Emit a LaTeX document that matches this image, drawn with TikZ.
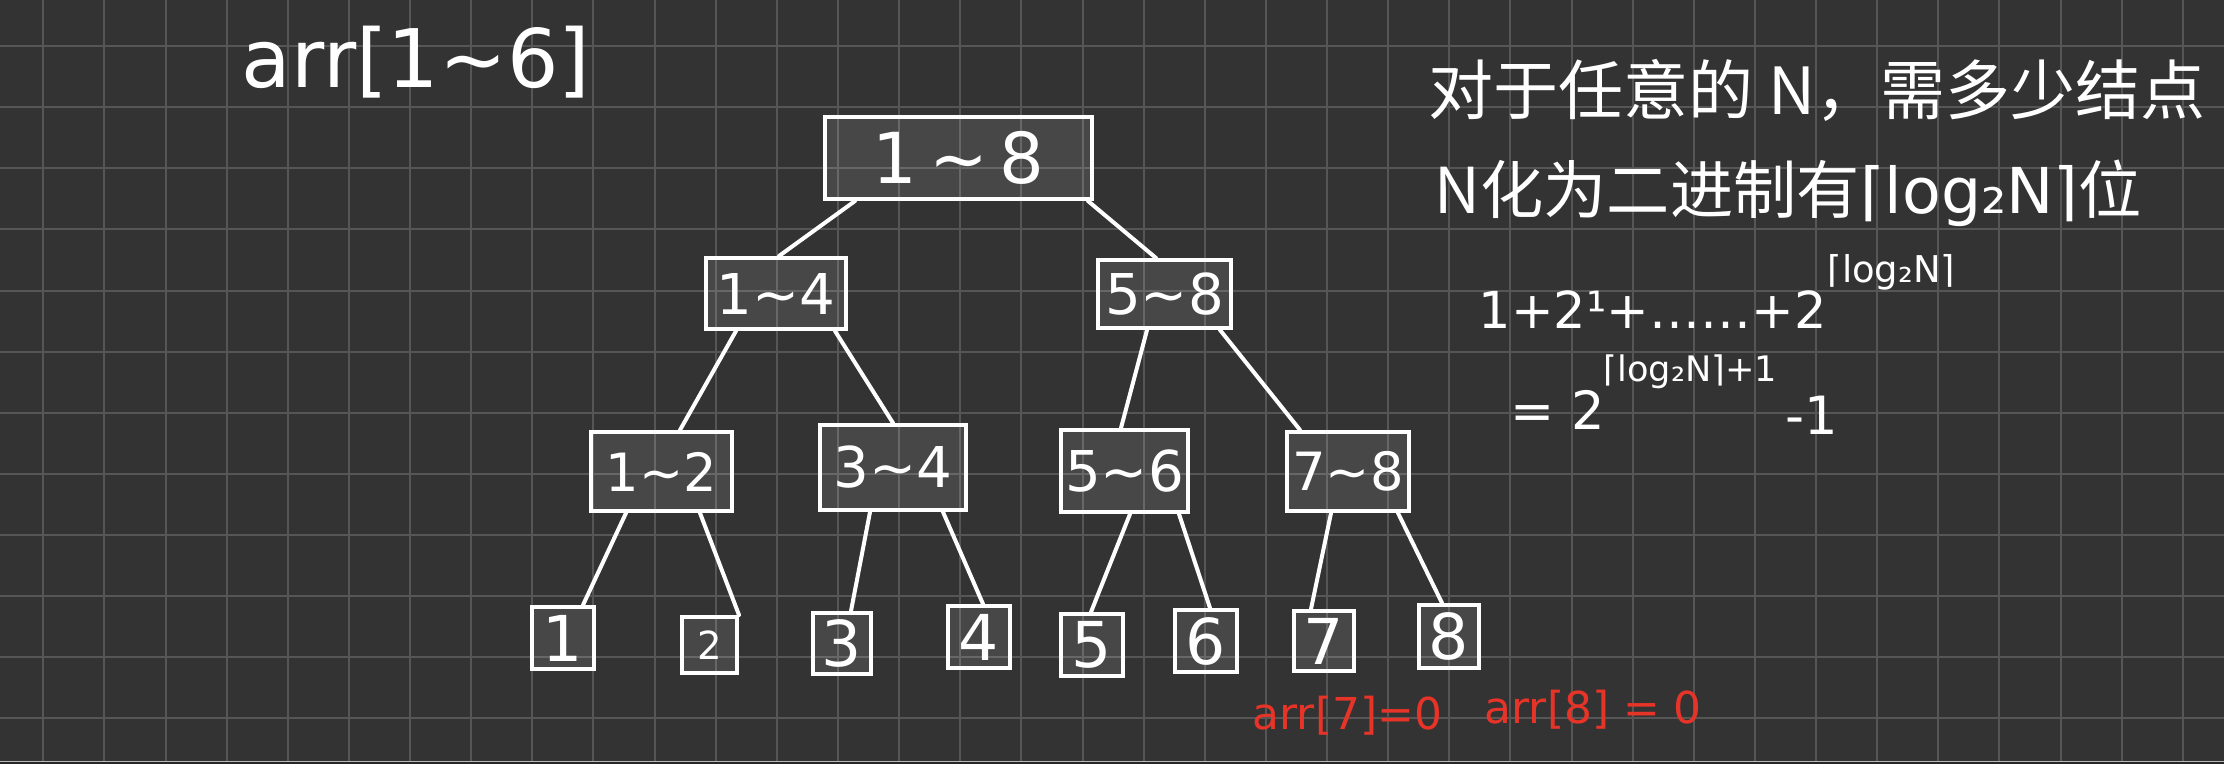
\documentclass[tikz,border=0pt]{standalone}
\usepackage{fontspec}
\setmainfont{DejaVu Sans}
\newfontfamily\cjk{Noto Sans CJK SC}
\usetikzlibrary{calc}
\definecolor{boardgray}{RGB}{51,51,51}
\definecolor{gridgray}{RGB}{86,86,86}
\definecolor{inkred}{RGB}{230,52,40}

\begin{document}
\begin{tikzpicture}[
        x=0.1mm, y=-0.1mm,
        box/.style={rectangle, draw=white, line width=0.4mm, fill=white, fill opacity=0.1, text opacity=1, text=white, inner sep=0pt},
        leaf/.style={box, minimum width=6.2mm, minimum height=6.2mm, font=\fontsize{18}{20}\selectfont},
        edge/.style={draw=white, line width=0.4mm, line cap=round},
        ink/.style={text=white, inner sep=0pt}
    ]
        \fill[boardgray] (0,0) rectangle (2224,764);
        \useasboundingbox (0,0) rectangle (2224,764);
        \foreach \i in {0,...,35}
            \draw[gridgray, line width=0.2mm] ({43.3+61.13*\i},0) -- ({43.3+61.13*\i},761);
        \foreach \j in {0,...,11}
            \draw[gridgray, line width=0.2mm] (0,{46+61.13*\j}) -- (2224,{46+61.13*\j});
        \draw[white!65!boardgray, line width=0.1mm] (0,761.5) -- (2224,761.5);
        \fill[black!85] (0,762) rectangle (2224,764);

        \node[box, minimum width=26.7mm, minimum height=8.2mm, font=\fontsize{20}{24}\selectfont] (n18) at (958.5,158) {1\,\textasciitilde\,8};
        \node[box, minimum width=14.0mm, minimum height=7.1mm, font=\fontsize{16}{19}\selectfont] (n14) at (776,293.5) {1\textasciitilde 4};
        \node[box, minimum width=13.3mm, minimum height=6.8mm, font=\fontsize{16}{19}\selectfont] (n58) at (1164.5,294) {5\textasciitilde 8};
        \node[box, minimum width=14.1mm, minimum height=7.9mm, font=\fontsize{15}{18}\selectfont] (n12) at (661.5,471.5) {1\textasciitilde 2};
        \node[box, minimum width=14.6mm, minimum height=8.5mm, font=\fontsize{16}{19}\selectfont] (n34) at (893,467.5) {3\textasciitilde 4};
        \node[box, minimum width=12.7mm, minimum height=8.2mm, font=\fontsize{16}{19}\selectfont] (n56) at (1124.5,471) {5\textasciitilde 6};
        \node[box, minimum width=12.2mm, minimum height=7.9mm, font=\fontsize{15}{18}\selectfont] (n78) at (1348,471.5) {7\textasciitilde 8};

        \node[leaf] (l1) at (563,638) {1};
        \node[leaf, minimum width=5.5mm, minimum height=5.6mm, font=\fontsize{11}{13}\selectfont] (l2) at (709.5,645) {2};
        \node[leaf, minimum width=5.8mm, minimum height=6.1mm] (l3) at (842,643.5) {3};
        \node[leaf] (l4) at (979,637) {4};
        \node[leaf] (l5) at (1092,645) {5};
        \node[leaf] (l6) at (1206,641) {6};
        \node[leaf, minimum width=6.0mm, minimum height=6.0mm] (l7) at (1324,641) {7};
        \node[leaf, minimum width=6.0mm, minimum height=6.3mm] (l8) at (1449,636.5) {8};

        \foreach \p/\dp/\c/\dc in {n18/-103.5/n14/3, n18/129.5/n58/-8.5, n14/-40/n12/18.5, n14/59/n34/0,
                n58/-17.5/n56/-3.5, n58/55.5/n78/-48, n12/-35.5/l1/20, n12/38.5/l2/29.5, n34/-23/l3/9,
                n34/50/l4/4, n56/5.5/l5/-1, n56/54.5/l6/4, n78/-17/l7/-13, n78/50/l8/-7}
            \draw[edge] ([xshift=\dp*0.1mm]\p.south) -- ([xshift=\dc*0.1mm]\c.north);

        \node[ink, anchor=west, font=\fontsize{23}{26}\selectfont] (title) at (241,62) {arr[1\textasciitilde 6]};

        \node[ink, anchor=west, font=\cjk\fontsize{18.5}{22}\selectfont] (q1) at (1428,90) {对于任意的 N，需多少结点};
        \node[ink, anchor=west, font=\cjk\fontsize{18}{22}\selectfont] (q2) at (1434,193) {N化为二进制有{\rmfamily ⌈log₂N⌉}位};
        \node[ink, anchor=west, font=\fontsize{14.5}{17}\selectfont] (sum) at (1478,310) {1+2¹+……+2};
        \node[ink, anchor=west, font=\fontsize{10.5}{12}\selectfont] (sumexp) at (1827,272) {⌈log₂N⌉};
        \node[ink, anchor=west, font=\fontsize{15}{18}\selectfont] (total) at (1510,410) {= 2};
        \node[ink, anchor=west, font=\fontsize{10}{12}\selectfont] (totalexp) at (1603,372) {⌈log₂N⌉+1};
        \node[ink, anchor=west, font=\fontsize{15}{18}\selectfont] (minus) at (1785,415) {-1};

        \node[ink, text=inkred, anchor=west, font=\fontsize{12.5}{15}\selectfont] (zero7) at (1252,716) {arr[7]=0};
        \node[ink, text=inkred, anchor=west, font=\fontsize{12.5}{15}\selectfont] (zero8) at (1484,710) {arr[8] = 0};
    \end{tikzpicture}
\end{document}
